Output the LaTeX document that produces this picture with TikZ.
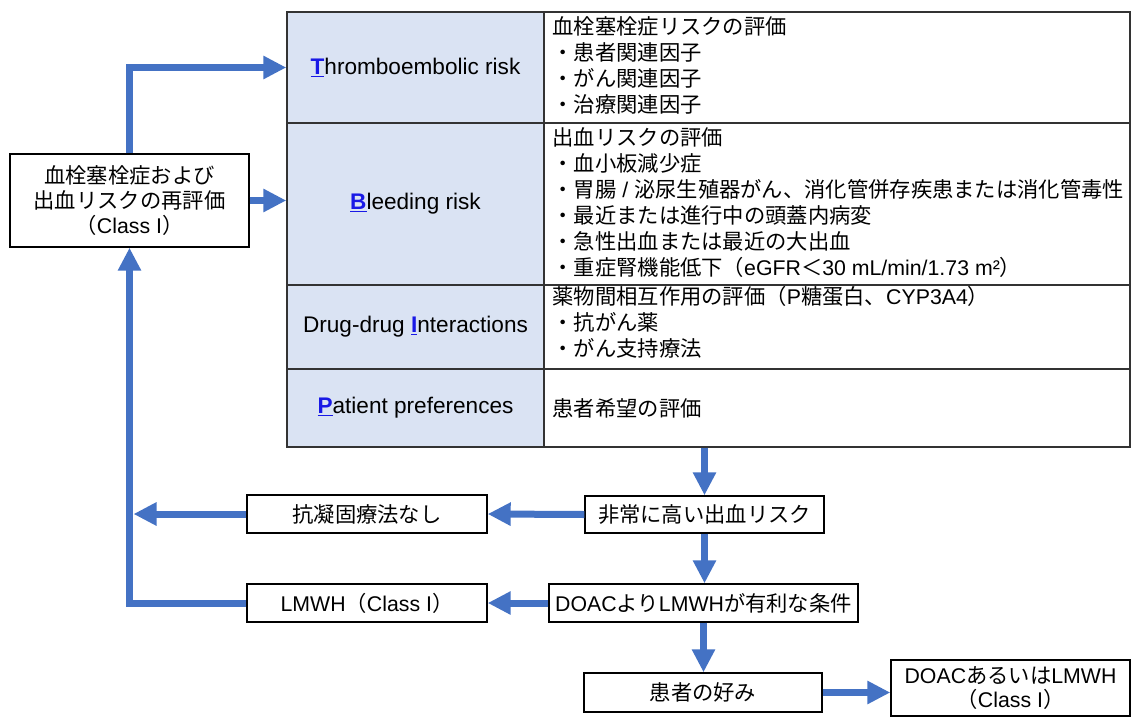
\documentclass[tikz,border=0pt]{standalone}
\usepackage{fontspec}
\setmainfont{Liberation Sans}
\newfontfamily\jp{Noto Sans CJK JP}
\usepackage{tikz}
\usetikzlibrary{arrows.meta}
\definecolor{flowblue}{RGB}{68,114,196}
\definecolor{cellblue}{RGB}{218,227,243}
\definecolor{keyblue}{RGB}{25,25,230}
\newcommand{\J}[1]{{\jp #1}}
\newcommand{\lat}[1]{{\rmfamily #1}}
\newcommand{\keyletter}[1]{\textcolor{keyblue}{\underline{\textbf{#1}}}}

\begin{document}
\begin{tikzpicture}[x=1pt,y=-1pt,
    font=\fontsize{21.3}{26}\selectfont,
    box/.style={draw=black, line width=1.4pt, fill=white, inner sep=0pt, align=center},
    lcell/.style={draw=black!80, line width=1.4pt, fill=cellblue, minimum width=257, inner sep=0pt,
      font=\fontsize{22.6}{26}\selectfont},
    rcell/.style={draw=black!80, line width=1.4pt, minimum width=586, inner sep=0pt},
    rtext/.style={anchor=west, align=left, inner sep=0pt, font=\fontsize{21.3}{26}\selectfont\jp},
    link/.style={draw=flowblue, line width=7pt},
    flow/.style={link, -{Triangle[length=23pt,width=22pt]}}]
\useasboundingbox (0,0) rectangle (1132,718);

% TBIP table, left column
\node[lcell, minimum height=111] (tl) at (415.5,67.5) {\keyletter{T}hromboembolic risk};
\node[lcell, minimum height=162] (bl) at (415.5,204) {\keyletter{B}leeding risk};
\node[lcell, minimum height=84] (il) at (415.5,327) {Drug-drug \keyletter{I}nteractions};
\node[lcell, minimum height=78] (pl) at (415.5,408) {\keyletter{P}atient preferences};

% right column
\node[rcell, minimum height=111] (tr) at (837,67.5) {};
\node[rcell, minimum height=162] (br) at (837,204) {};
\node[rcell, minimum height=84] (ir) at (837,327) {};
\node[rcell, minimum height=78] (pr) at (837,408) {};

\node[rtext] (ttext) at ([xshift=9,yshift=2]tr.west)
  {血栓塞栓症リスクの評価\\・患者関連因子\\・がん関連因子\\・治療関連因子};
\node[rtext] (btext) at ([xshift=9,yshift=1.5]br.west)
  {出血リスクの評価\\・血小板減少症\\・胃腸\lat{~/~}泌尿生殖器がん、消化管併存疾患または消化管毒性\\
   ・最近または進行中の頭蓋内病変\\・急性出血または最近の大出血\\
   ・重症腎機能低下（\lat{eGFR}＜\lat{30 mL/min/1.73 m²}）};
\node[rtext] (itext) at ([xshift=9,yshift=5]ir.west)
  {薬物間相互作用の評価（\lat{P}糖蛋白、\lat{CYP3A4}）\\・抗がん薬\\・がん支持療法};
\node[rtext] (ptext) at ([xshift=9]pr.west) {患者希望の評価};

% flow boxes
\node[box, minimum width=239, minimum height=93] (reval) at (129.5,200.5)
  {\J{血栓塞栓症および}\\[-1pt]\J{出血リスクの再評価}\\[-1pt]\J{（}Class I\J{）}};
\node[box, minimum width=239, minimum height=37] (veryhigh) at (704.5,514.5) {\J{非常に高い出血リスク}};
\node[box, minimum width=240, minimum height=38] (noac) at (367,514) {\J{抗凝固療法なし}};
\node[box, minimum width=309, minimum height=38] (lmwhpref) at (703.5,603) {DOAC\J{より}LMWH\J{が有利な条件}};
\node[box, minimum width=240, minimum height=38] (lmwh) at (367,603) {LMWH\J{（}Class I\J{）}};
\node[box, minimum width=238, minimum height=39] (pref) at (703,692.5) {\J{患者の好み}};
\node[box, minimum width=239, minimum height=56] (doac) at (1010.5,688)
  {DOAC\J{あるいは}LMWH\\[-2pt]\J{（}Class I\J{）}};

% arrows
\draw[flow] (reval.north) |- (tl.west);
\draw[flow] (reval.east) -- (reval.east -| bl.west);
\draw[flow] (veryhigh.north |- pl.south) -- (veryhigh.north);
\draw[flow] (veryhigh.west) -- (noac.east);
\draw[flow] (noac.west) -- ([xshift=4]noac.west -| reval.south);
\draw[flow] (veryhigh.south) -- (veryhigh.south |- lmwhpref.north);
\draw[flow] (lmwhpref.west) -- (lmwh.east);
\draw[flow] (lmwh.west) -| (reval.south);
\draw[flow] (lmwhpref.south) -- (lmwhpref.south |- pref.north);
\draw[flow] (pref.east) -- (pref.east -| doac.west);
\end{tikzpicture}
\end{document}
